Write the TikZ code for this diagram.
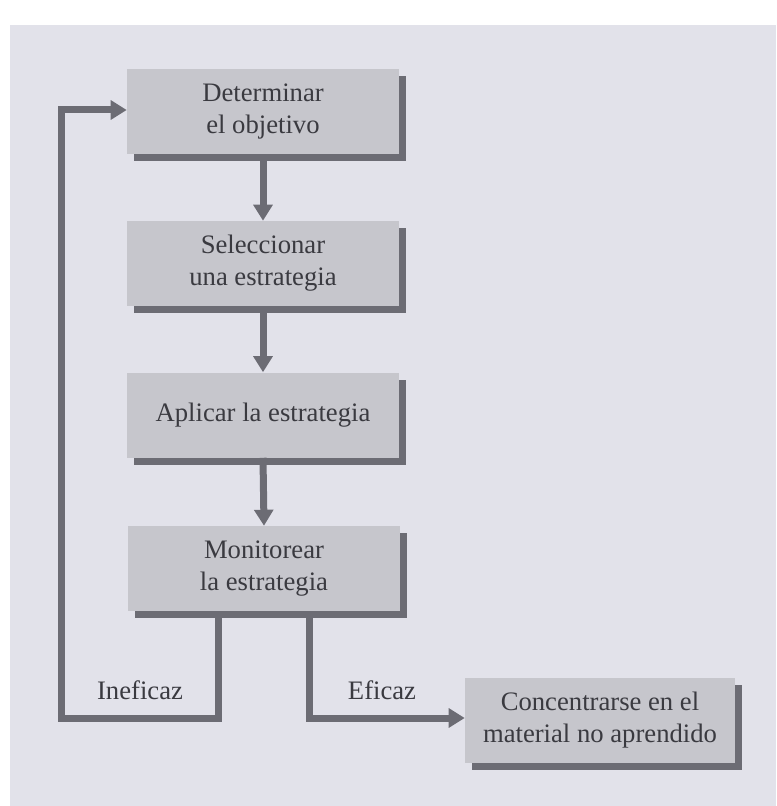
\documentclass[tikz,border=0pt]{standalone}
\usepackage{fontspec}
\setmainfont{Liberation Serif}
\usetikzlibrary{arrows.meta,shadows}
\definecolor{panelc}{RGB}{226,226,234}
\definecolor{boxc}{RGB}{198,198,204}
\definecolor{linec}{RGB}{108,108,116}
\definecolor{textc}{RGB}{58,58,64}
\tikzset{
  stepbox/.style={rectangle, fill=boxc, minimum width=204pt, minimum height=63.75pt,
    inner sep=0pt, align=center, text=textc,
    font=\fontsize{20}{24}\selectfont,
    drop shadow={shadow xshift=5.25pt, shadow yshift=-5.25pt, fill=linec, opacity=1}},
  conn/.style={draw=linec, line width=5.25pt, line join=miter},
  arr/.style={conn, -{Triangle[width=14pt,length=12pt]}},
  lbl/.style={text=textc, font=\fontsize{20}{24}\selectfont, inner sep=0pt}
}
\begin{document}
\begin{tikzpicture}[x=0.75pt,y=-0.75pt]
\useasboundingbox (0,0) rectangle (776,806);
\fill[white] (0,0) rectangle (776,806);
\fill[panelc] (10,25) rectangle (776,806);

\node[stepbox] (b1) at (263,111.5) {Determinar\\el objetivo};
\node[stepbox] (b2) at (263,263.5) {Seleccionar\\una estrategia};
\node[stepbox] (b3) at (263,415) {Aplicar la estrategia};
\node[stepbox] (b4) at (264,568.5) {Monitorear\\la estrategia};
\node[stepbox, minimum width=202.5pt] (b5) at (600,720.5) {Concentrarse en el\\material no aprendido};

\draw[arr] (b1.south) -- (b2.north);
\draw[arr] (b2.south) -- (b3.north);
\draw[arr] (b3.south) -- (b4.north);

\coordinate (i1) at (218,718);
\coordinate (i2) at (61,718);
\coordinate (i3) at (61,110);
\draw[arr] (b4.south -| i1) -- (i1) -- (i2) -- (i3) -- (i3 -| b1.west);

\coordinate (e1) at (309,718);
\draw[arr] (b4.south -| e1) -- (e1) -- (e1 -| b5.west);

\node[lbl] (l1) at (140,690) {Ineficaz};
\node[lbl] (l2) at (382,690) {Eficaz};
\end{tikzpicture}
\end{document}
